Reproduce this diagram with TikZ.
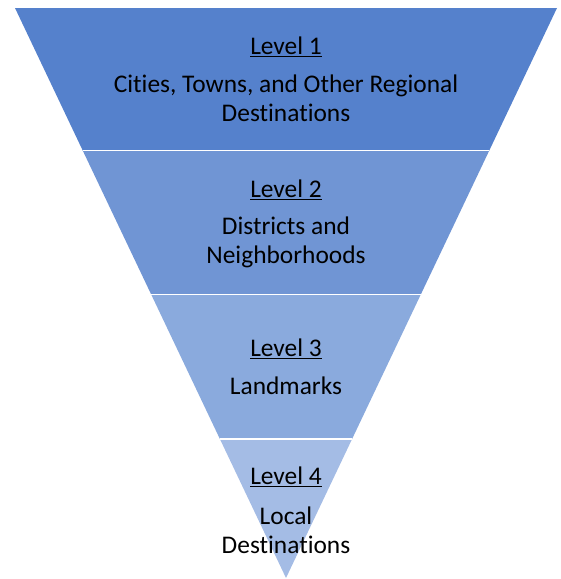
\documentclass[tikz,border=0pt]{standalone}
\usepackage{fontspec}
\setmainfont{Carlito}[Ligatures=NoCommon]
\definecolor{cA}{RGB}{85,129,204}
\definecolor{cB}{RGB}{112,149,212}
\definecolor{cC}{RGB}{138,170,221}
\definecolor{cD}{RGB}{164,188,229}
\begin{document}
\begin{tikzpicture}[x=1pt,y=-1pt,
  lbl/.style={font=\fontsize{25.4}{29}\selectfont,align=center,text=black,inner sep=0pt}]
\useasboundingbox (0,0) rectangle (561,579);
% edges: x = 15 + (y-8)*0.4754 (left), x = 557 - (y-8)*0.4754 (right)
\coordinate (tl) at (15,8);
\coordinate (tr) at (557,8);
\coordinate (l1) at (82.8,150.7);
\coordinate (r1) at (489.2,150.7);
\coordinate (l2) at (151.3,294.7);
\coordinate (r2) at (420.7,294.7);
\coordinate (l3) at (219.9,439);
\coordinate (r3) at (352.1,439);
\coordinate (ap) at (286,578);
\fill[cA] (tl) -- (tr) -- (r1) -- (l1) -- cycle;
\fill[cB] (l1) -- (r1) -- (r2) -- (l2) -- cycle;
\fill[cC] (l2) -- (r2) -- (r3) -- (l3) -- cycle;
\fill[cD] (l3) -- (r3) -- (ap) -- cycle;
\draw[white,line width=1.5pt] (l1) -- (r1);
\draw[white,line width=1.5pt] (l2) -- (r2);
\draw[white,line width=1.5pt] (l3) -- (r3);
\node[lbl] (t1) at (286,47) {\underline{Level 1}};
\node[lbl] (t1b) at (286,98) {Cities, Towns, and Other Regional\\Destinations};
\node[lbl] (t2) at (286,189.5) {\underline{Level 2}};
\node[lbl] (t2b) at (286,242.5) {Districts and\\Neighborhoods};
\node[lbl] (t3) at (286,348.5) {\underline{Level 3}};
\node[lbl] (t3b) at (286,385.5) {Landmarks};
\node[lbl] (t4) at (286,476.5) {\underline{Level 4}};
\node[lbl] (t4b) at (286,530.5) {Local\\Destinations};
\end{tikzpicture}
\end{document}
